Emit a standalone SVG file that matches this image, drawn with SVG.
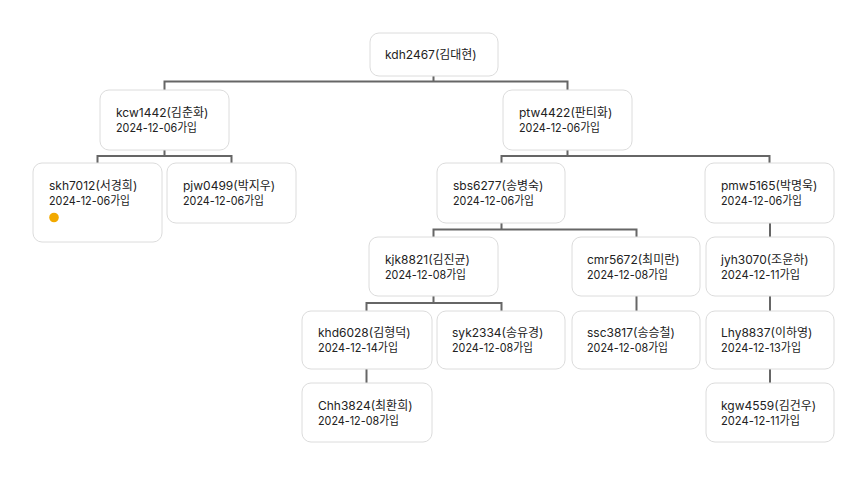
<svg xmlns="http://www.w3.org/2000/svg" width="866" height="480" viewBox="0 0 866 480">
<style>
.box{fill:#fff;stroke:#dcdcdc;stroke-width:1}
.t{font-family:"Inter","Noto Sans CJK KR",sans-serif;font-size:12px;fill:#222}
.c{fill:none;stroke:#666;stroke-width:2}
</style>
<rect width="866" height="480" fill="#fff"/>
<g id="connectors">
<path class="c" d="M433.5 76V81.5M164.5 90V81.5H567.5V90"/>
<path class="c" d="M164.5 150V156M97.5 163V156H231.5V163"/>
<path class="c" d="M567.5 150V156M501.5 163V156H769.5V163"/>
<path class="c" d="M501.5 223V229.5M433.5 237V229.5H636.5V237"/>
<path class="c" d="M770 223V237"/>
<path class="c" d="M433.5 296V303M366.5 311V303H501.5V311"/>
<path class="c" d="M636.5 296V311"/>
<path class="c" d="M770 296V311"/>
<path class="c" d="M366.5 369V383"/>
<path class="c" d="M770 369V383"/>
</g>
<g id="kdh2467"><rect class="box" x="370" y="33" width="128" height="43" rx="9"/><text class="t" x="385" y="59">kdh2467(김대현)</text></g>
<g id="kcw1442"><rect class="box" x="100" y="90" width="129" height="60" rx="9"/><text class="t" x="116" y="117">kcw1442(김춘화)</text><text class="t" x="116" y="132" textLength="81" lengthAdjust="spacingAndGlyphs">2024-12-06가입</text></g>
<g id="ptw4422"><rect class="box" x="503" y="90" width="129" height="60" rx="9"/><text class="t" x="519" y="117">ptw4422(판티화)</text><text class="t" x="519" y="132" textLength="81" lengthAdjust="spacingAndGlyphs">2024-12-06가입</text></g>
<g id="skh7012"><rect class="box" x="33" y="163" width="129" height="79" rx="9"/><text class="t" x="49" y="190">skh7012(서경희)</text><text class="t" x="49" y="205" textLength="81" lengthAdjust="spacingAndGlyphs">2024-12-06가입</text><circle cx="54" cy="217.5" r="4.8" fill="#f2a900"/></g>
<g id="pjw0499"><rect class="box" x="167" y="163" width="129" height="60" rx="9"/><text class="t" x="183" y="190">pjw0499(박지우)</text><text class="t" x="183" y="205" textLength="81" lengthAdjust="spacingAndGlyphs">2024-12-06가입</text></g>
<g id="sbs6277"><rect class="box" x="437" y="163" width="128" height="60" rx="9"/><text class="t" x="453" y="190">sbs6277(송병숙)</text><text class="t" x="453" y="205" textLength="81" lengthAdjust="spacingAndGlyphs">2024-12-06가입</text></g>
<g id="pmw5165"><rect class="box" x="705" y="163" width="129" height="60" rx="9"/><text class="t" x="721" y="190">pmw5165(박명욱)</text><text class="t" x="721" y="205" textLength="81" lengthAdjust="spacingAndGlyphs">2024-12-06가입</text></g>
<g id="kjk8821"><rect class="box" x="369" y="237" width="129" height="59" rx="9"/><text class="t" x="385" y="264">kjk8821(김진균)</text><text class="t" x="385" y="279" textLength="81" lengthAdjust="spacingAndGlyphs">2024-12-08가입</text></g>
<g id="cmr5672"><rect class="box" x="572" y="237" width="128" height="59" rx="9"/><text class="t" x="587" y="264">cmr5672(최미란)</text><text class="t" x="587" y="279" textLength="81" lengthAdjust="spacingAndGlyphs">2024-12-08가입</text></g>
<g id="jyh3070"><rect class="box" x="706" y="237" width="128" height="59" rx="9"/><text class="t" x="721" y="264">jyh3070(조윤하)</text><text class="t" x="721" y="279" textLength="79" lengthAdjust="spacingAndGlyphs">2024-12-11가입</text></g>
<g id="khd6028"><rect class="box" x="302" y="311" width="130" height="58" rx="9"/><text class="t" x="318" y="337">khd6028(김형덕)</text><text class="t" x="318" y="352" textLength="80" lengthAdjust="spacingAndGlyphs">2024-12-14가입</text></g>
<g id="syk2334"><rect class="box" x="437" y="311" width="128" height="58" rx="9"/><text class="t" x="452" y="337">syk2334(송유경)</text><text class="t" x="452" y="352" textLength="81" lengthAdjust="spacingAndGlyphs">2024-12-08가입</text></g>
<g id="ssc3817"><rect class="box" x="572" y="311" width="128" height="58" rx="9"/><text class="t" x="587" y="337">ssc3817(송승철)</text><text class="t" x="587" y="352" textLength="81" lengthAdjust="spacingAndGlyphs">2024-12-08가입</text></g>
<g id="Lhy8837"><rect class="box" x="706" y="311" width="128" height="58" rx="9"/><text class="t" x="721" y="337">Lhy8837(이하영)</text><text class="t" x="721" y="352" textLength="80" lengthAdjust="spacingAndGlyphs">2024-12-13가입</text></g>
<g id="Chh3824"><rect class="box" x="302" y="383" width="130" height="59" rx="9"/><text class="t" x="318" y="410">Chh3824(최환희)</text><text class="t" x="318" y="425" textLength="81" lengthAdjust="spacingAndGlyphs">2024-12-08가입</text></g>
<g id="kgw4559"><rect class="box" x="706" y="383" width="128" height="59" rx="9"/><text class="t" x="721" y="410">kgw4559(김건우)</text><text class="t" x="721" y="425" textLength="79" lengthAdjust="spacingAndGlyphs">2024-12-11가입</text></g>
</svg>
